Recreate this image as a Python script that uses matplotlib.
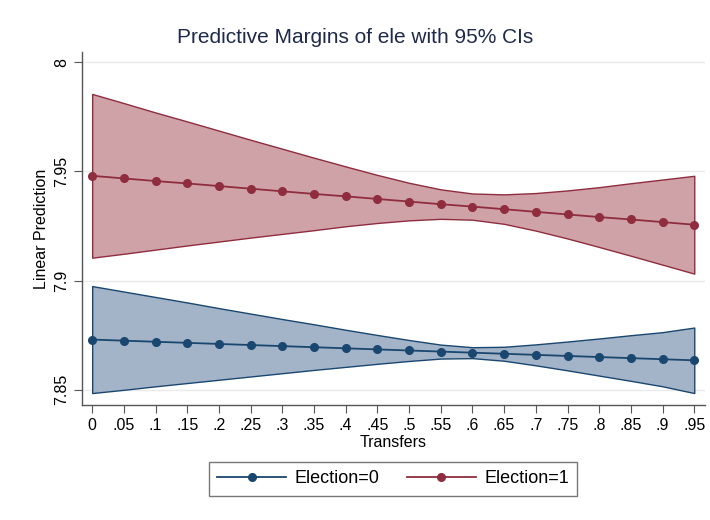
import matplotlib
matplotlib.use("Agg")
import matplotlib.pyplot as plt

plt.rcParams['font.family'] = ['Liberation Sans', 'DejaVu Sans']

transfers = [0, .05, .1, .15, .2, .25, .3, .35, .4, .45,
             .5, .55, .6, .65, .7, .75, .8, .85, .9, .95]
tick_labels = ['0', '.05', '.1', '.15', '.2', '.25', '.3', '.35', '.4', '.45',
               '.5', '.55', '.6', '.65', '.7', '.75', '.8', '.85', '.9', '.95']

# Election=0 margins and 95% CI
elec0_mean = [7.8730, 7.8725, 7.8720, 7.8715, 7.8710, 7.8705, 7.8700, 7.8695, 7.8690, 7.8685,
              7.8680, 7.8675, 7.8670, 7.8665, 7.8660, 7.8655, 7.8650, 7.8645, 7.8640, 7.8635]
elec0_hi = [7.8975, 7.8950, 7.8925, 7.8900, 7.8874, 7.8849, 7.8824, 7.8800, 7.8775, 7.8751,
            7.8728, 7.8707, 7.8695, 7.8697, 7.8708, 7.8721, 7.8735, 7.8750, 7.8764, 7.8785]
elec0_lo = [7.8485, 7.8500, 7.8516, 7.8531, 7.8546, 7.8561, 7.8576, 7.8591, 7.8605, 7.8619,
            7.8632, 7.8643, 7.8645, 7.8633, 7.8612, 7.8589, 7.8565, 7.8541, 7.8516, 7.8485]

# Election=1 margins and 95% CI
elec1_mean = [7.9480, 7.9468, 7.9456, 7.9445, 7.9433, 7.9421, 7.9409, 7.9397, 7.9386, 7.9374,
              7.9362, 7.9350, 7.9339, 7.9327, 7.9315, 7.9303, 7.9291, 7.9280, 7.9268, 7.9256]
elec1_hi = [7.9855, 7.9813, 7.9770, 7.9729, 7.9687, 7.9645, 7.9604, 7.9563, 7.9523, 7.9484,
            7.9448, 7.9418, 7.9399, 7.9395, 7.9401, 7.9413, 7.9428, 7.9446, 7.9463, 7.9480]
elec1_lo = [7.9105, 7.9123, 7.9142, 7.9161, 7.9179, 7.9197, 7.9214, 7.9231, 7.9249, 7.9264,
            7.9276, 7.9283, 7.9279, 7.9260, 7.9229, 7.9193, 7.9154, 7.9114, 7.9073, 7.9032]

navy = '#1a476f'
maroon = '#8f2d3f'

fig = plt.figure(figsize=(7.1, 5.2), dpi=100)
ax = fig.add_axes([0.115, 0.221, 0.878, 0.679])

# CI bands
ax.fill_between(transfers, elec0_lo, elec0_hi, facecolor='#a3b3c8', edgecolor=navy, linewidth=1.0, zorder=2)
ax.fill_between(transfers, elec1_lo, elec1_hi, facecolor='#cfa2a8', edgecolor=maroon, linewidth=1.0, zorder=2)

ax.plot(transfers, elec0_mean, color=navy, marker='o', markersize=5.5, linewidth=1.3, label='Election=0', zorder=3)
ax.plot(transfers, elec1_mean, color=maroon, marker='o', markersize=5.5, linewidth=1.3, label='Election=1', zorder=3)

ax.set_xlim(-0.0166, 0.967)
ax.set_ylim(7.843, 8.0047)
ax.set_xticks(transfers)
ax.set_xticklabels(tick_labels)
ax.set_yticks([7.85, 7.9, 7.95, 8])
ax.set_yticklabels(['7.85', '7.9', '7.95', '8'], rotation=90, va='center')
ax.grid(axis='y', color='#eaeaea', linewidth=1.0, zorder=0)
ax.set_axisbelow(True)

for side in ['top', 'right']:
    ax.spines[side].set_visible(False)
for side in ['left', 'bottom']:
    ax.spines[side].set_color('#555555')
    ax.spines[side].set_linewidth(1.0)
ax.tick_params(colors='#555555', length=6, labelcolor='black', labelsize=11.5, pad=3)

ax.set_xlabel('Transfers', fontsize=11.5, labelpad=2)
ax.set_ylabel('Linear Prediction', fontsize=11.5, labelpad=4)
fig.text(0.5, 0.927, 'Predictive Margins of ele with 95% CIs', fontsize=15,
         color='#1e2a4a', ha='center', va='center')

leg = fig.legend(loc='center', bbox_to_anchor=(0.554, 0.079), ncol=2, fontsize=13,
                 handlelength=3.8, handletextpad=0.5, columnspacing=1.5,
                 frameon=True, fancybox=False, borderpad=0.45)
leg.get_frame().set_edgecolor('#555555')
leg.get_frame().set_linewidth(1.0)

fig.savefig('out.png', dpi=100)
